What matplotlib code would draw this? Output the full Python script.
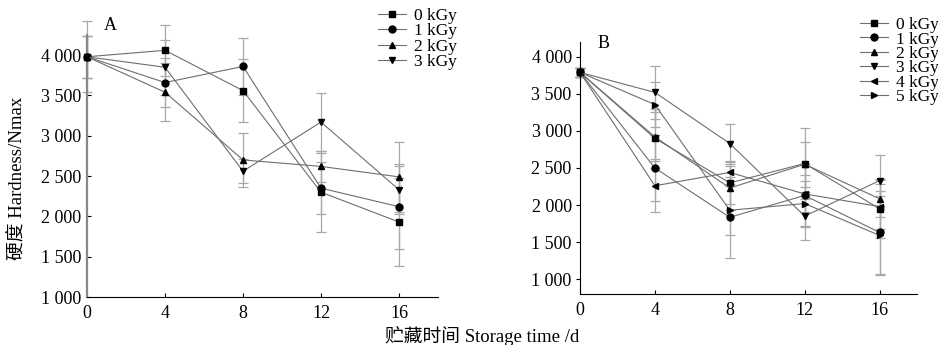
import matplotlib
matplotlib.use("Agg")
import matplotlib.pyplot as plt
from matplotlib.ticker import FuncFormatter

plt.rcParams['font.family'] = ['Liberation Serif', 'Noto Sans CJK SC']

days = [0, 4, 8, 12, 16]
labels_A = ["0 kGy", "1 kGy", "2 kGy", "3 kGy"]
labels_B = ["0 kGy", "1 kGy", "2 kGy", "3 kGy", "4 kGy", "5 kGy"]
markers = ['s', 'o', '^', 'v', '<', '>']

A_0 = [3980, 4060, 3560, 2300, 1930]
A_1 = [3980, 3660, 3860, 2350, 2120]
A_2 = [3980, 3540, 2700, 2620, 2490]
A_3 = [3980, 3850, 2560, 3170, 2330]
A_0_err = [440, 320, 390, 490, 540]
A_1_err = [260, 300, 350, 320, 530]
A_2_err = [260, 360, 330, 190, 430]
A_3_err = [260, 340, 150, 360, 300]

B_0 = [3790, 2900, 2300, 2560, 1950]
B_1 = [3790, 2500, 1835, 2130, 1630]
B_2 = [3790, 2920, 2230, 2550, 2085]
B_3 = [3790, 3520, 2830, 1850, 2330]
B_4 = [3790, 2260, 2440, 2150, 1980]
B_5 = [3790, 3355, 1930, 2020, 1590]
B_0_err = [60, 400, 280, 480, 400]
B_1_err = [60, 450, 550, 420, 560]
B_2_err = [60, 330, 300, 300, 250]
B_3_err = [60, 360, 270, 320, 340]
B_4_err = [60, 360, 150, 250, 300]
B_5_err = [60, 300, 330, 300, 530]

yticks = [1000, 1500, 2000, 2500, 3000, 3500, 4000]
xticks = [0, 4, 8, 12, 16]

def fmt(v, pos):
    return f"{int(v):,}".replace(",", " ")

fig = plt.figure(figsize=(9.38, 3.45), dpi=100)
axA = fig.add_axes([87/938, 1-297/345, 351/938, 262/345])
axB = fig.add_axes([580/938, 1-294/345, 337/938, 252/345])

line_col = '#6e6e6e'
err_col = '#a8a8a8'

def draw(ax, series, errs, labels):
    handles = []
    for i, (ys, es, lab) in enumerate(zip(series, errs, labels)):
        eb = ax.errorbar(days, ys, yerr=es, fmt='none', ecolor=err_col,
                         elinewidth=0.9, capsize=3.5, capthick=0.9, zorder=1)
        for art in list(eb.lines[1]) + list(eb.lines[2]):
            art.set_clip_on(False)
        h, = ax.plot(days, ys, color=line_col, lw=0.8, marker=markers[i],
                     ms=5, mfc='black', mec='black', label=lab, zorder=3,
                     clip_on=False)
        handles.append(h)
    return handles

hA = draw(axA, [A_0, A_1, A_2, A_3], [A_0_err, A_1_err, A_2_err, A_3_err], labels_A)
hB = draw(axB, [B_0, B_1, B_2, B_3, B_4, B_5],
          [B_0_err, B_1_err, B_2_err, B_3_err, B_4_err, B_5_err], labels_B)

axA.set_xlim(0, 18)
axA.set_ylim(1000, 4250)
axB.set_xlim(0, 18)
axB.set_ylim(800, 4200)

for ax in (axA, axB):
    ax.set_xticks(xticks)
    ax.set_yticks(yticks)
    ax.yaxis.set_major_formatter(FuncFormatter(fmt))
    for s in ('top', 'right'):
        ax.spines[s].set_visible(False)
    ax.tick_params(labelsize=13, length=3, width=0.8)
    ax.tick_params(axis='x', direction='in', pad=6)
    ax.set_facecolor('none')

axA.tick_params(axis='y', direction='in', pad=4)
axB.tick_params(axis='y', direction='out', pad=3)
axA.spines['left'].set_color('#888888')
axA.spines['left'].set_linewidth(1.6)

fig.text(110/938, 1-26/345, "A", fontsize=13, ha='center', va='center')
fig.text(604/938, 1-43/345, "B", fontsize=13, ha='center', va='center')

fig.text(18/938, 1-178/345, "硬度 Hardness/Nmax", rotation=90, fontsize=13.5,
         ha='center', va='center')
fig.text(482/938, 1-336/345, "贮藏时间 Storage time /d", fontsize=13.5,
         ha='center', va='center')

legkw = dict(frameon=False, fontsize=12.5, handlelength=1.6, handletextpad=0.45,
             borderpad=0, borderaxespad=0)
fig.legend(handles=hA, loc='upper left', bbox_to_anchor=(378/938, 1-8/345),
           labelspacing=-0.05, **legkw)
fig.legend(handles=hB, loc='upper left', bbox_to_anchor=(860/938, 1-17/345),
           labelspacing=-0.1, **legkw)

fig.savefig("out.png", dpi=100)
